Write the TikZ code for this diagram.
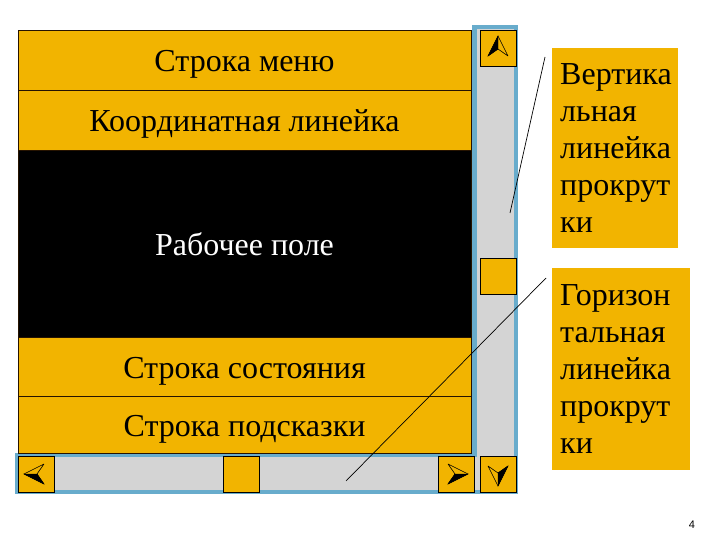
\documentclass[tikz,border=0pt]{standalone}
\usepackage{fontspec}
\setmainfont{Liberation Serif}
\newfontfamily\rowfont{Liberation Serif}
\newfontfamily\pagefont{Liberation Sans}
\usepackage{tikz}
\definecolor{winorange}{RGB}{242,180,0}
\definecolor{barblue}{RGB}{104,172,204}
\definecolor{bargray}{RGB}{212,212,212}
\tikzset{
  row/.style={draw=black!85!orange,fill=winorange,line width=0.7pt,inner sep=0pt,
    minimum width=453,minimum height=#1,text height=26,text depth=2,
    font=\rowfont\fontsize{32}{36}\selectfont},
  btn/.style={draw=black,fill=winorange,line width=0.7pt,minimum size=36,inner sep=0pt},
  callout/.style={fill=winorange,text width=#1,align=left,inner xsep=8,inner ysep=6,
    anchor=north west,font=\rowfont\fontsize{32}{37}\selectfont},
  dart/.pic={\filldraw[black] (0,-12)--(-10,8)--(0,1)--cycle;
    \draw[line width=0.6pt,line join=round] (0,-12)--(-10,8)--(0,1)--(10,8)--cycle;},
  dartflip/.pic={\filldraw[black] (0,-12)--(10,8)--(0,1)--cycle;
    \draw[line width=0.6pt,line join=round] (0,-12)--(-10,8)--(0,1)--(10,8)--cycle;}
}
\begin{document}
\begin{tikzpicture}[x=1pt,y=-1pt]
\useasboundingbox (0,0) rectangle (720,540);
% scroll bars
\fill[barblue] (472,25) rectangle (518,494);
\fill[barblue] (15,453) rectangle (518,494);
\fill[bargray] (477,29) rectangle (514,490);
\fill[bargray] (18,457) rectangle (514,490);
% window rows
\node[row=60] (menu) at (244.5,60) {Строка меню};
\node[row=60] (ruler) at (244.5,120) {Координатная линейка};
\node[row=187,fill=black,text=white] (work) at (244.5,243.5) {Рабочее поле};
\node[row=59] (status) at (244.5,366.5) {Строка состояния};
\node[row=57] (hint) at (244.5,424.5) {Строка подсказки};
% buttons
\node[btn] (up) at (498,48) {};
\node[btn] (vthumb) at (498,276) {};
\node[btn] (left) at (36,474) {};
\node[btn] (hthumb) at (241,474) {};
\node[btn] (right) at (456,474) {};
\node[btn] (down) at (498,474) {};
\pic at (up) {dart};
\pic[rotate=90] at (left) {dart};
\pic[rotate=-90] at (right) {dartflip};
\pic[rotate=180] at (down) {dart};
% labels
\node[callout=110,minimum height=200] (vlabel) at (552,48) {Вертика\\льная\\линейка\\прокрут\\ки};
\node[callout=122,minimum height=202] (hlabel) at (552,268) {Горизон\\тальная\\линейка\\прокрут\\ки};
\coordinate (vfoot) at (510,213);
\coordinate (vtip) at (545,57);
\coordinate (hfoot) at (346,481);
\coordinate (htip) at (546,278);
\draw[line width=0.7pt] (vfoot) -- (vtip);
\draw[line width=0.7pt] (hfoot) -- (htip);
\node[font=\pagefont\fontsize{11}{11}\selectfont] (pageno) at (692,525) {4};
\end{tikzpicture}
\end{document}
